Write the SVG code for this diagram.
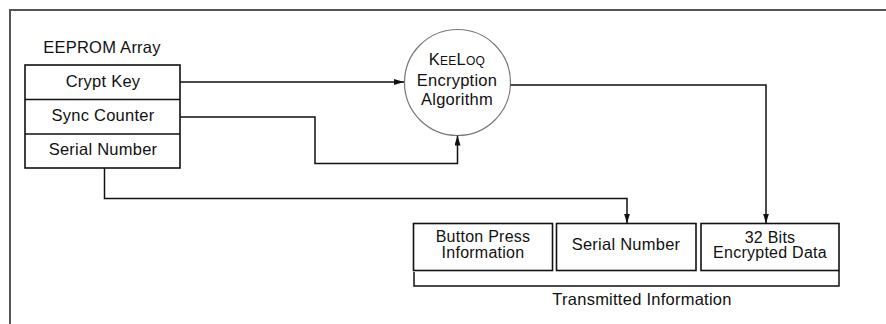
<svg xmlns="http://www.w3.org/2000/svg" width="886" height="324" viewBox="0 0 886 324">
  <style>
    text { font-family: "Liberation Sans", Arial, sans-serif; font-size: 16.5px; letter-spacing: 0.25px; fill: #111; text-anchor: middle; }
    .tight { font-size: 16px; }
    .box { fill: #fff; stroke: #111; stroke-width: 1.6; }
    .wire { fill: none; stroke: #111; stroke-width: 1.5; }
    .frame { fill: none; stroke: #555; stroke-width: 2; }
    .sc { font-size: 12px; }
  </style>
  <defs>
    <marker id="arrow" viewBox="0 0 10 6" refX="10" refY="3" markerWidth="10" markerHeight="6" markerUnits="userSpaceOnUse" orient="auto">
      <path d="M0,0 L10,3 L0,6 Z" fill="#111"/>
    </marker>
  </defs>
  <rect width="886" height="324" fill="#fff"/>

  <!-- outer frame (open on the right and bottom) -->
  <path class="frame" d="M10,324 V10 H886"/>

  <!-- EEPROM array -->
  <g id="eeprom">
    <text x="102" y="53">EEPROM Array</text>
    <rect class="box" x="25" y="65" width="155" height="103"/>
    <line class="box" x1="25" y1="99.5" x2="180" y2="99.5"/>
    <line class="box" x1="25" y1="134" x2="180" y2="134"/>
    <text x="103" y="87">Crypt Key</text>
    <text x="103" y="121">Sync Counter</text>
    <text x="103" y="155">Serial Number</text>
  </g>

  <!-- cipher block -->
  <g id="keeloq">
    <circle cx="457.5" cy="82.5" r="53" fill="#fff" stroke="#777" stroke-width="1.2"/>
    <text x="457" y="65">K<tspan class="sc">EE</tspan>L<tspan class="sc">OQ</tspan></text>
    <text x="457" y="86">Encryption</text>
    <text x="457" y="105">Algorithm</text>
  </g>

  <!-- transmitted word -->
  <g id="button-info">
    <rect class="box" x="413.5" y="223.5" width="139" height="47"/>
    <text class="tight" x="483" y="242">Button Press</text>
    <text class="tight" x="483" y="258">Information</text>
  </g>
  <g id="serial-out">
    <rect class="box" x="556.5" y="223.5" width="139.5" height="47"/>
    <text x="626" y="250">Serial Number</text>
  </g>
  <g id="encrypted-out">
    <rect class="box" x="701" y="223.5" width="138" height="47"/>
    <text class="tight" x="770" y="242.5">32 Bits</text>
    <text class="tight" x="770" y="258">Encrypted Data</text>
  </g>
  <g id="transmitted">
    <path class="wire" d="M414,272 V286 H839 V271"/>
    <text x="642" y="305">Transmitted Information</text>
  </g>

  <!-- connectors -->
  <g id="connectors">
    <path class="wire" d="M180,82 H404" marker-end="url(#arrow)"/>
    <path class="wire" d="M180,117 H315 V163.5 H457.5 V135.5" marker-end="url(#arrow)"/>
    <path class="wire" d="M510.5,85 H766 V223.5" marker-end="url(#arrow)"/>
    <path class="wire" d="M104.5,168 V198.5 H627 V223.5" marker-end="url(#arrow)"/>
  </g>
</svg>
